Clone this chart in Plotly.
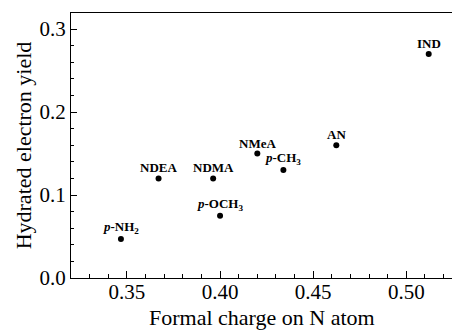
import plotly.graph_objects as go

labels = ["<i>p</i>-NH<sub>2</sub>", "NDEA", "NDMA", "<i>p</i>-OCH<sub>3</sub>",
          "NMeA", "<i>p</i>-CH<sub>3</sub>", "AN", "IND"]
formal_charge = [0.3468, 0.367, 0.3963, 0.400, 0.420, 0.434, 0.4624, 0.512]
electron_yield = [0.047, 0.120, 0.120, 0.075, 0.150, 0.130, 0.160, 0.270]
x_title = "Formal charge on N atom"
y_title = "Hydrated electron yield"

FONT = "Liberation Serif"
W, H = 452, 330
ML, MR, MT, MB = 71, 0, 13, 52
plot_h = H - MT - MB

fig = go.Figure()
fig.add_trace(go.Scatter(
    x=formal_charge, y=electron_yield,
    mode="markers",
    marker=dict(color="black", size=6),
    cliponaxis=False,
    showlegend=False,
))

for lx, ly, lt in zip(formal_charge, electron_yield, labels):
    fig.add_annotation(
        x=lx, y=ly, text="<b>" + lt + "</b>", showarrow=False,
        xanchor="center", yanchor="bottom", yshift=2, borderpad=0,
        font=dict(family=FONT, size=13, color="black"),
    )

# x-axis title placed just below the tick labels
fig.add_annotation(
    x=0.5, xref="x domain", y=-(304 - (H - MB)) / plot_h, yref="y domain",
    text=x_title, showarrow=False, xanchor="center", yanchor="top",
    borderpad=0, font=dict(family=FONT, size=22, color="black"),
)

fig.update_layout(
    width=W, height=H,
    margin=dict(l=ML, r=MR, t=MT, b=MB, autoexpand=False),
    paper_bgcolor="white", plot_bgcolor="white",
    font=dict(family=FONT, color="black"),
    xaxis=dict(
        range=[0.320, 0.5245], tickvals=[0.35, 0.40, 0.45, 0.50],
        ticktext=["0.35", "0.40", "0.45", "0.50"],
        ticks="inside", ticklen=7, tickwidth=1, tickcolor="black",
        ticklabelstandoff=-5,
        minor=dict(dtick=0.01, tick0=0.30, ticks="inside", ticklen=4, tickcolor="black", tickwidth=1),
        showline=True, linecolor="black", linewidth=1, mirror=True,
        showgrid=False, zeroline=False, automargin=False,
        tickfont=dict(family=FONT, size=21),
    ),
    yaxis=dict(
        range=[0.0, 0.3193], tickvals=[0.0, 0.1, 0.2, 0.3],
        ticktext=["0.0", "0.1", "0.2", "0.3"],
        ticks="inside", ticklen=6, tickwidth=1, tickcolor="black",
        minor=dict(dtick=0.02, tick0=0.0, ticks="inside", ticklen=3, tickcolor="black", tickwidth=1),
        showline=True, linecolor="black", linewidth=1, mirror=False,
        showgrid=False, zeroline=False, automargin=False,
        tickfont=dict(family=FONT, size=21),
        title=dict(text=y_title, font=dict(family=FONT, size=22), standoff=1),
    ),
)

fig.write_html("out.html")
